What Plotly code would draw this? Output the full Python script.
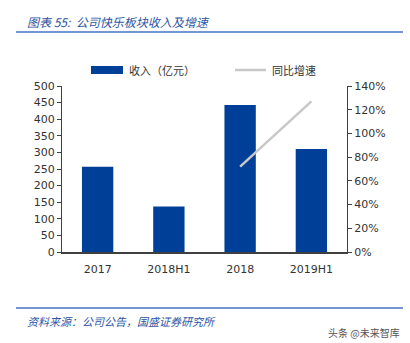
import plotly.graph_objects as go

categories = ["2017", "2018H1", "2018", "2019H1"]
revenue = [257, 137, 443, 310]
growth = [None, None, 0.72, 1.27]
left_ticks = [0, 50, 100, 150, 200, 250, 300, 350, 400, 450, 500]
right_ticks = [0, 0.2, 0.4, 0.6, 0.8, 1.0, 1.2, 1.4]

W, H = 410, 343
L, R, T, B = 62, 347, 86, 252

def px(x):
    return (x - L) / (R - L)

def py(y):
    return (B - y) / (B - T)

BAR = "#003F98"
LINE = "#C8C8C8"
TXT = "#333333"
CJK = "Noto Sans CJK SC"
NUM = "DejaVu Sans"

fig = go.Figure()
fig.add_trace(go.Bar(x=categories, y=revenue, marker=dict(color=BAR, line=dict(width=0)),
                     width=0.44, name="收入（亿元）", showlegend=False))
fig.add_trace(go.Scatter(x=categories, y=growth, yaxis="y2", mode="lines",
                         line=dict(color=LINE, width=2.5), name="同比增速",
                         showlegend=False, connectgaps=False))

fig.update_layout(
    width=W, height=H,
    margin=dict(l=L, r=W - R, t=T, b=H - B),
    paper_bgcolor="white", plot_bgcolor="white",
    bargap=0.56,
    xaxis=dict(type="category", showline=True, linecolor="#404040", linewidth=1.5,
               ticks="", tickfont=dict(family=NUM, size=11, color=TXT), showgrid=False,
               ticklabelstandoff=6),
    yaxis=dict(range=[0, 500], tickvals=left_ticks, showline=True, linecolor="#404040",
               linewidth=1, ticks="outside", ticklen=4, tickcolor="#404040",
               tickfont=dict(family=NUM, size=11, color=TXT), showgrid=False, zeroline=False),
    yaxis2=dict(range=[0, 1.4], tickvals=right_ticks, tickformat=".0%", overlaying="y",
                side="right", showline=True, linecolor="#404040", linewidth=1,
                ticks="outside", ticklen=4, tickcolor="#404040",
                tickfont=dict(family=NUM, size=11, color=TXT), showgrid=False, zeroline=False),
    showlegend=False,
)

shapes = [
    dict(type="line", xref="paper", yref="paper", x0=px(16), x1=px(403), y0=py(32), y1=py(32),
         line=dict(color="#4472C4", width=1.5)),
    dict(type="line", xref="paper", yref="paper", x0=px(16), x1=px(403), y0=py(308), y1=py(308),
         line=dict(color="#4472C4", width=1.5)),
    dict(type="rect", xref="paper", yref="paper", x0=px(91), x1=px(123), y0=py(74), y1=py(66),
         fillcolor=BAR, line=dict(width=0)),
    dict(type="line", xref="paper", yref="paper", x0=px(235), x1=px(266), y0=py(70), y1=py(70),
         line=dict(color=LINE, width=2.5)),
]
fig.update_layout(shapes=shapes)

ann = [
    dict(text="<i>图表 55:  公司快乐板块收入及增速</i>", x=px(25), y=py(21), xanchor="left", yanchor="middle",
         font=dict(family=CJK, size=12, color="#2E55A4")),
    dict(text="收入（亿元）", x=px(127), y=py(70), xanchor="left", yanchor="middle",
         font=dict(family=CJK, size=11, color=TXT)),
    dict(text="同比增速", x=px(270), y=py(70), xanchor="left", yanchor="middle",
         font=dict(family=CJK, size=11, color=TXT)),
    dict(text="<i>资料来源：公司公告，国盛证券研究所</i>", x=px(25), y=py(321), xanchor="left", yanchor="middle",
         font=dict(family=CJK, size=11, color="#2E55A4")),
    dict(text="头条 @未来智库", x=px(402), y=py(332), xanchor="right", yanchor="middle",
         font=dict(family=CJK, size=10, color="#555555")),
]
for a in ann:
    a.update(xref="paper", yref="paper", showarrow=False)
fig.update_layout(annotations=ann)

fig.write_html("out.html")
